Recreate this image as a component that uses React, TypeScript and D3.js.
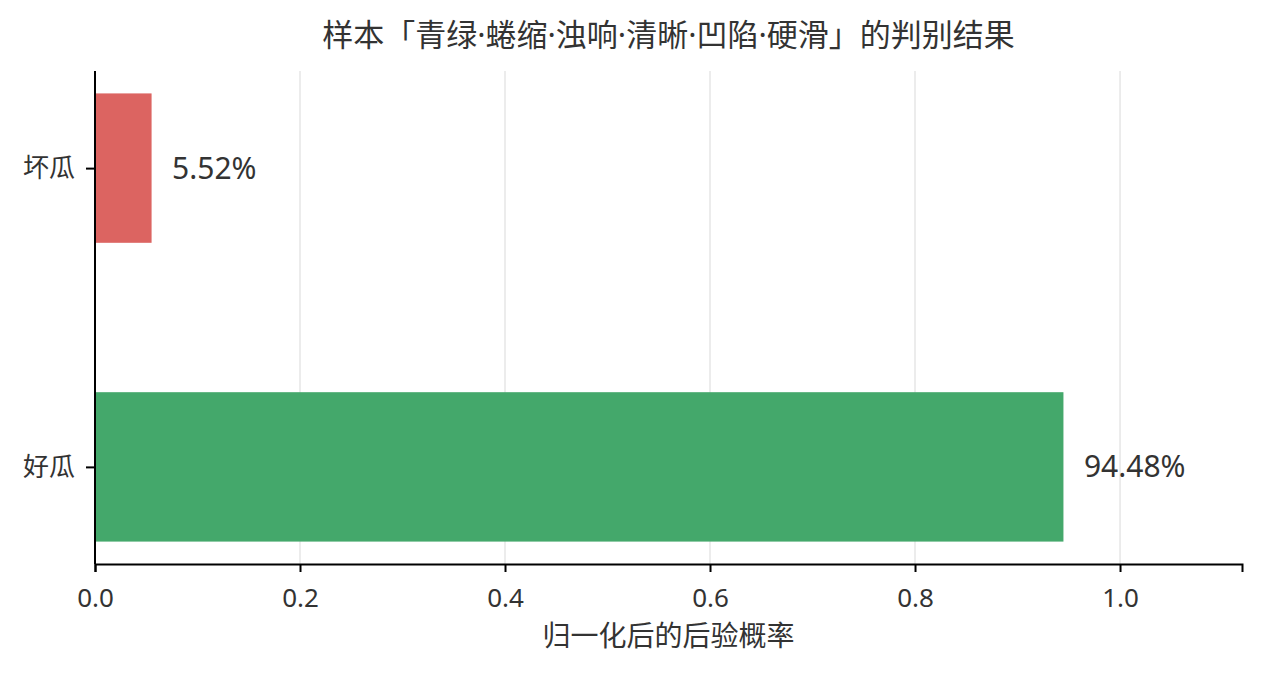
import React, { useEffect, useRef } from 'react';
import * as d3 from 'd3';

// 数据
const categories = ['好瓜', '坏瓜'];
const probabilities = [0.9448, 0.0552];
const barColors = ['#44a86b', '#dc6461'];
const xTicks = [0, 0.2, 0.4, 0.6, 0.8, 1.0];
const title = '样本「青绿·蜷缩·浊响·清晰·凹陷·硬滑」的判别结果';
const xLabel = '归一化后的后验概率';

const width = 1262;
const height = 673;
const margin = { top: 71, right: 20, bottom: 109, left: 95 };
const FONT = '"Noto Sans", "Noto Sans CJK SC", sans-serif';
const TEXT = '#333333';

const App = () => {
  const ref = useRef<SVGSVGElement | null>(null);

  useEffect(() => {
    if (!ref.current) return;
    const svg = d3.select(ref.current);
    svg.selectAll('*').remove();

    const innerW = width - margin.left - margin.right;
    const innerH = height - margin.top - margin.bottom;

    const x = d3.scaleLinear().domain([0, 1.119]).range([0, innerW]);
    // matplotlib 风格: 类别位于 0,1, 条高 0.5, 边距 5%
    const y = d3.scaleLinear().domain([-0.325, 1.325]).range([innerH, 0]);
    const barH = 0.5;

    const g = svg.append('g')
      .attr('transform', `translate(${margin.left}, ${margin.top})`);

    // 网格线
    g.selectAll('.grid')
      .data(xTicks)
      .enter().append('line')
      .attr('x1', d => x(d))
      .attr('x2', d => x(d))
      .attr('y1', 0)
      .attr('y2', innerH)
      .attr('stroke', '#e6e6e6')
      .attr('stroke-width', 1.5);

    // 条形
    g.selectAll('.bar')
      .data(probabilities)
      .enter().append('rect')
      .attr('x', x(0))
      .attr('y', (_, i) => y(i + barH / 2))
      .attr('width', d => x(d) - x(0))
      .attr('height', y(0) - y(barH))
      .attr('fill', (_, i) => barColors[i]);

    // 数值标签
    g.selectAll('.val')
      .data(probabilities)
      .enter().append('text')
      .attr('x', d => x(d + 0.02))
      .attr('y', (_, i) => y(i))
      .attr('dy', '0.35em')
      .style('font-family', FONT)
      .style('font-size', '30px')
      .style('fill', TEXT)
      .text(d => `${(d * 100).toFixed(2)}%`);

    // x 轴
    const xAxis = g.append('g')
      .attr('transform', `translate(0, ${innerH})`)
      .call(d3.axisBottom(x).tickValues(xTicks).tickFormat(d3.format('.1f')).tickSize(8).tickPadding(17));
    xAxis.select('.domain').attr('stroke', '#000').attr('stroke-width', 2);
    xAxis.selectAll('.tick line').attr('stroke', '#000').attr('stroke-width', 2);
    xAxis.selectAll('.tick text')
      .style('font-family', FONT)
      .style('font-size', '26px')
      .style('fill', TEXT);

    // y 轴
    const yAxis = g.append('g')
      .call(d3.axisLeft(y).tickValues([0, 1]).tickFormat((d) => categories[d as number]).tickSize(9).tickPadding(11));
    yAxis.select('.domain').attr('d', `M0,${innerH}V0`).attr('stroke', '#000').attr('stroke-width', 2);
    yAxis.selectAll('.tick line').attr('stroke', '#000').attr('stroke-width', 2);
    yAxis.selectAll('.tick text')
      .style('font-family', FONT)
      .style('font-size', '26px')
      .style('fill', TEXT);

    // 标题
    svg.append('text')
      .attr('x', margin.left + innerW / 2)
      .attr('y', 46)
      .attr('text-anchor', 'middle')
      .style('font-family', FONT)
      .style('font-size', '31px')
      .style('fill', TEXT)
      .text(title);

    // x 轴标题
    svg.append('text')
      .attr('x', margin.left + innerW / 2)
      .attr('y', 646)
      .attr('text-anchor', 'middle')
      .style('font-family', FONT)
      .style('font-size', '28px')
      .style('fill', TEXT)
      .text(xLabel);
  }, []);

  return (
    <svg ref={ref} width={width} height={height}
      style={{ position: 'absolute', left: 0, top: 0, background: '#fff' }} />
  );
};

export default App;
